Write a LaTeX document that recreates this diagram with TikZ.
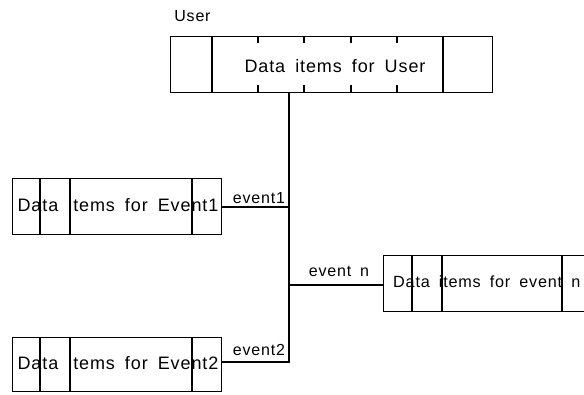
\documentclass[tikz,border=0pt]{standalone}
\usepackage{fontspec}
\setmainfont{Liberation Sans}[LetterSpace=5, WordSpace=1.7]
\begin{document}
\begin{tikzpicture}[x=1pt,y=-1pt,
  box/.style={draw, line width=1.2pt, rectangle, inner sep=0pt, anchor=north west},
  bigtxt/.style={anchor=base, inner sep=0pt, font=\fontsize{18}{21}\selectfont},
  lbl/.style={anchor=base, inner sep=0pt, font=\fontsize{16}{19}\selectfont},
  link/.style={line width=1.2pt},
  divider/.style={line width=1.2pt}]
\clip (0,0) rectangle (584,395);
% boxes
\node[box, minimum width=322pt, minimum height=56pt] (user) at (170,36) {};
\node[box, minimum width=209pt, minimum height=56pt] (ev1) at (12,178) {};
\node[box, minimum width=209pt, minimum height=54pt] (ev2) at (12,337) {};
\node[box, minimum width=210pt, minimum height=56pt] (evn) at (383,255) {};
% dividers
\foreach \x in {212,443} \draw[divider] (user.north -| {(\x,0)}) -- (user.south -| {(\x,0)});
\foreach \x in {258,304,351,397} {
  \draw[divider] (\x,36) -- (\x,43);
  \draw[divider] (\x,85) -- (\x,92);
}
\foreach \x in {40,70,192} {
  \draw[divider] (ev1.north -| {(\x,0)}) -- (ev1.south -| {(\x,0)});
  \draw[divider] (ev2.north -| {(\x,0)}) -- (ev2.south -| {(\x,0)});
}
\foreach \x in {412,442,562} \draw[divider] (evn.north -| {(\x,0)}) -- (evn.south -| {(\x,0)});
% texts
\node[lbl] (userlbl) at (192.5,22) {User};
\node[bigtxt] (usertxt) at (335,73) {Data items for User};
\node[bigtxt] (ev1txt) at (118,212) {Data items for Event1};
\node[bigtxt] (ev2txt) at (118,370) {Data items for Event2};
\node[bigtxt, anchor=base west, font=\fontsize{16.2}{19}\selectfont] (evntxt) at (393,288) {Data items for event n};
\node[lbl] (e1lbl) at (259,204) {event1};
\node[lbl] (e2lbl) at (259,356) {event2};
\node[lbl] (enlbl) at (339,277) {event n};
% connectors
\coordinate (j1) at (289,207);
\coordinate (j3) at (289,285);
\coordinate (j2) at (289,362);
\draw[link] (user.south -| j2) -- (j2) -- (ev2.east |- j2);
\draw[link] (ev1.east |- j1) -- (j1);
\draw[link] (j3) -- (evn.west |- j3);
\end{tikzpicture}
\end{document}
